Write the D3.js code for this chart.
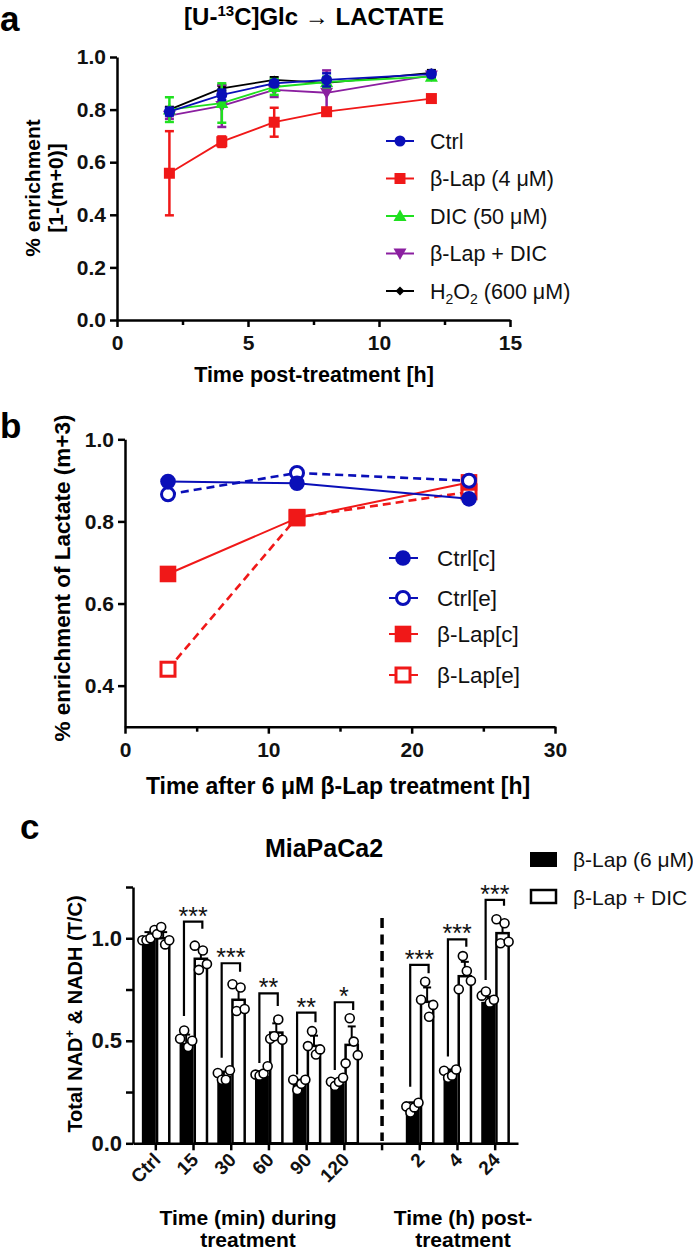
<!DOCTYPE html>
<html><head><meta charset="utf-8">
<script src="https://cdn.jsdelivr.net/npm/d3@7"></script>
<style>
body{margin:0;background:#fff;}
svg{display:block;font-family:"Liberation Sans",Arial,sans-serif;}
.bold{font-weight:bold;}
</style></head><body>
<svg id="chart" width="693" height="1253"></svg>
<script>
// ---------- Panel a data ----------
const timesA = [2, 4, 6, 8, 12];
const seriesA = ["Ctrl", "β-Lap (4 μM)", "DIC (50 μM)", "β-Lap + DIC", "H2O2 (600 μM)"];
const ctrlA   = [0.792, 0.856, 0.900, 0.913, 0.935];
const lapA    = [0.558, 0.678, 0.752, 0.792, 0.842];
const dicA    = [0.800, 0.825, 0.886, 0.905, 0.925];
const lapDicA = [0.777, 0.814, 0.875, 0.864, 0.930];
const h2o2A   = [0.800, 0.881, 0.913, 0.902, 0.940];
const ctrlErrA   = [0.015, 0.02, 0.01, 0.025, 0.01];
const lapErrA    = [0.16, 0.02, 0.055, 0.012, 0.01];
const dicErrA    = [0.047, 0.075, 0.03, 0.02, 0.01];
const lapDicErrA = [0.012, 0.08, 0.027, 0.085, 0.01];
const h2o2ErrA   = [0.01, 0.01, 0.01, 0.01, 0.01];
const xTicksA = [0, 5, 10, 15];
const yTicksA = [0, 0.2, 0.4, 0.6, 0.8, 1.0];

// ---------- Panel b data ----------
const timesB = [3, 12, 24];
const seriesB = ["Ctrl[c]", "Ctrl[e]", "β-Lap[c]", "β-Lap[e]"];
const ctrlC_B = [0.897, 0.893, 0.855];
const ctrlE_B = [0.866, 0.918, 0.899];
const lapC_B  = [0.672, 0.808, 0.895];
const lapE_B  = [0.440, 0.810, 0.872];
const xTicksB = [0, 10, 20, 30];
const yTicksB = [0.4, 0.6, 0.8, 1.0];

// ---------- Panel c data ----------
const catsC = ["Ctrl", "15", "30", "60", "90", "120", "", "2", "4", "24"];
const lapBarC    = [1.00, 0.49, 0.33, 0.33, 0.29, 0.29, null, 0.18, 0.34, 0.69];
const lapDicBarC = [1.00, 0.90, 0.70, 0.54, 0.475, 0.48, null, 0.69, 0.815, 1.025];
const lapSdC     = [0.03, 0.04, 0.02, 0.02, 0.02, 0.02, null, 0.02, 0.02, 0.025];
const lapDicSdC  = [0.03, 0.05, 0.065, 0.045, 0.05, 0.09, null, 0.07, 0.07, 0.05];
const lapDotsC = [[0.99,0.99,1.00,1.04],[0.51,0.55,0.47,0.50],[0.343,0.31,0.31,0.356],[0.335,0.33,0.34,0.376],[0.31,0.26,0.29,0.31],[0.30,0.28,0.30,0.32],null,[0.18,0.15,0.175,0.198],[0.354,0.32,0.33,0.36],[0.72,0.74,0.686,0.70]];
const lapDicDotsC = [[1.02,1.055,0.97,0.99],[0.964,0.846,0.94,0.874],[0.776,0.645,0.76,0.655],[0.51,0.522,0.604,0.505],[0.474,0.547,0.433,0.458],[0.39,0.61,0.496,0.43],null,[0.70,0.788,0.617,0.675],[0.751,0.913,0.84,0.793],[1.093,0.976,1.073,0.983]];
const bracketTopC   = [null, 1.081, 0.878, 0.731, 0.637, 0.688, null, 0.870, 0.995, 1.187];
const bracketLeftC  = [null, 0.621, 0.417, 0.392, 0.335, 0.358, null, 0.276, 0.423, 0.797];
const bracketRightC = [null, 1.046, 0.837, 0.670, 0.590, 0.650, null, 0.829, 0.959, 1.158];
const starsC = [null, "***", "***", "**", "**", "*", null, "***", "***", "***"];
const yTicksC = [0, 0.25, 0.5, 0.75, 1.0, 1.25];
const yLabelsC = [0, 0.5, 1.0];
const seriesC = ["β-Lap (6 μM)", "β-Lap + DIC"];

const svg = d3.select("#chart");

function axisStyle(size){
  return function(g){
    g.selectAll(".domain").attr("stroke","#000").attr("stroke-width",2.5);
    g.selectAll(".tick line").attr("stroke","#000").attr("stroke-width",2.5);
    g.selectAll(".tick text").attr("font-size",size).attr("font-weight","bold").attr("fill","#111")
      .attr("font-family","'Liberation Sans',Arial,sans-serif");
  };
}

// ======== Panel a ========
{
  const x = d3.scaleLinear([0,15],[117,510]);
  const y = d3.scaleLinear([0,1],[320,57]);
  svg.append("text").attr("x",0).attr("y",31).attr("class","bold").attr("font-size",35).text("a");
  const t = svg.append("text").attr("x",314).attr("y",25).attr("text-anchor","middle").attr("class","bold").attr("font-size",24);
  t.append("tspan").text("[U-");
  t.append("tspan").attr("font-size",15).attr("dy",-9).text("13");
  t.append("tspan").attr("dy",9).text("C]Glc \u2192 LACTATE");

  svg.append("g").attr("transform","translate(0,320)")
    .call(d3.axisBottom(x).tickValues([2.5,7.5,12.5]).tickSize(5).tickFormat(""))
    .call(axisStyle(21)).call(g=>g.select(".domain").remove());
  svg.append("g").attr("transform","translate(0,320)")
    .call(d3.axisBottom(x).tickValues(xTicksA).tickSize(7).tickSizeOuter(0).tickPadding(8).tickFormat(d3.format("d")))
    .call(axisStyle(21));
  svg.append("g").attr("transform","translate(117,0)")
    .call(d3.axisLeft(y).tickValues(yTicksA).tickSize(7).tickSizeOuter(0).tickPadding(4).tickFormat(d3.format(".1f")))
    .call(axisStyle(21));

  svg.append("text").attr("transform","translate(40,188) rotate(-90)").attr("text-anchor","middle").attr("class","bold").attr("font-size",21).text("% enrichment");
  svg.append("text").attr("transform","translate(63,188) rotate(-90)").attr("text-anchor","middle").attr("class","bold").attr("font-size",21).text("[1-(m+0)]");
  svg.append("text").attr("x",314).attr("y",382).attr("text-anchor","middle").attr("class","bold").attr("font-size",21.5).text("Time post-treatment [h]");

  const defs = [
    {name:seriesA[4], vals:h2o2A, err:h2o2ErrA, color:"#000000", shape:"diamond"},
    {name:seriesA[3], vals:lapDicA, err:lapDicErrA, color:"#8B1FA0", shape:"tridown"},
    {name:seriesA[2], vals:dicA, err:dicErrA, color:"#1FE01F", shape:"triup"},
    {name:seriesA[1], vals:lapA, err:lapErrA, color:"#F01818", shape:"square"},
    {name:seriesA[0], vals:ctrlA, err:ctrlErrA, color:"#0A0FB8", shape:"circle"},
  ];
  function marker(g, shape, color, cx, cy){
    if(shape==="circle") g.append("circle").attr("cx",cx).attr("cy",cy).attr("r",5.5).attr("fill",color);
    else if(shape==="square") g.append("rect").attr("x",cx-5.5).attr("y",cy-5.5).attr("width",11).attr("height",11).attr("fill",color);
    else if(shape==="triup") g.append("path").attr("d",`M${cx},${cy-6.5}L${cx+6.5},${cy+5}L${cx-6.5},${cy+5}Z`).attr("fill",color);
    else if(shape==="tridown") g.append("path").attr("d",`M${cx},${cy+6.5}L${cx+6.5},${cy-5}L${cx-6.5},${cy-5}Z`).attr("fill",color);
    else if(shape==="diamond") g.append("path").attr("d",`M${cx},${cy-4.5}L${cx+4.5},${cy}L${cx},${cy+4.5}L${cx-4.5},${cy}Z`).attr("fill",color);
  }
  const line = d3.line().x((d,i)=>x(timesA[i])).y(d=>y(d));
  defs.forEach(s=>{
    const g = svg.append("g");
    s.vals.forEach((v,i)=>{
      const cx = x(timesA[i]);
      g.append("line").attr("x1",cx).attr("x2",cx).attr("y1",y(v-s.err[i])).attr("y2",y(v+s.err[i])).attr("stroke",s.color).attr("stroke-width",2.5);
      [v-s.err[i], v+s.err[i]].forEach(e=>g.append("line").attr("x1",cx-4.5).attr("x2",cx+4.5).attr("y1",y(e)).attr("y2",y(e)).attr("stroke",s.color).attr("stroke-width",2.5));
    });
    g.append("path").attr("d",line(s.vals)).attr("fill","none").attr("stroke",s.color).attr("stroke-width",1.8);
    s.vals.forEach((v,i)=>marker(g,s.shape,s.color,x(timesA[i]),y(v)));
  });
  const legOrder = defs.slice().reverse();
  legOrder.forEach((s,i)=>{
    const ly = 141 + i*37.5;
    const g = svg.append("g");
    g.append("line").attr("x1",386).attr("x2",414).attr("y1",ly).attr("y2",ly).attr("stroke",s.color).attr("stroke-width",2);
    marker(g,s.shape,s.color,400,ly);
    const tx = g.append("text").attr("x",430).attr("y",ly+7.5).attr("font-size",21.5).attr("fill","#111");
    if(s.name.startsWith("H2O2")){
      tx.append("tspan").text("H");
      tx.append("tspan").attr("font-size",14).attr("dy",5).text("2");
      tx.append("tspan").attr("dy",-5).text("O");
      tx.append("tspan").attr("font-size",14).attr("dy",5).text("2");
      tx.append("tspan").attr("dy",-5).text(" (600 μM)");
    } else tx.text(s.name);
  });
}

// ======== Panel b ========
{
  const x = d3.scaleLinear([0,30],[125,555]);
  const y = d3.scaleLinear([0.3,1.0],[726.7,439.3]);
  svg.append("text").attr("x",0).attr("y",438).attr("class","bold").attr("font-size",35).text("b");
  svg.append("g").attr("transform","translate(0,726.7)")
    .call(d3.axisBottom(x).tickValues([5,15,25]).tickSize(5).tickFormat(""))
    .call(axisStyle(21)).call(g=>g.select(".domain").remove());
  svg.append("g").attr("transform","translate(0,726.7)")
    .call(d3.axisBottom(x).tickValues(xTicksB).tickSize(7).tickSizeOuter(0).tickPadding(8).tickFormat(d3.format("d")))
    .call(axisStyle(21));
  svg.append("g").attr("transform","translate(125,0)")
    .call(d3.axisLeft(y).tickValues(yTicksB).tickSize(7).tickSizeOuter(0).tickPadding(4).tickFormat(d3.format(".1f")))
    .call(axisStyle(21));
  svg.append("text").attr("transform","translate(70,578) rotate(-90)").attr("text-anchor","middle").attr("class","bold").attr("font-size",22.5).text("% enrichment of Lactate (m+3)");
  svg.append("text").attr("x",338).attr("y",794).attr("text-anchor","middle").attr("class","bold").attr("font-size",23).text("Time after 6 μM β-Lap treatment [h]");

  const defs = [
    {name:seriesB[3], vals:lapE_B, color:"#F01818", shape:"square", open:true, dash:true},
    {name:seriesB[2], vals:lapC_B, color:"#F01818", shape:"square", open:false, dash:false},
    {name:seriesB[1], vals:ctrlE_B, color:"#0A0FB8", shape:"circle", open:true, dash:true},
    {name:seriesB[0], vals:ctrlC_B, color:"#0A0FB8", shape:"circle", open:false, dash:false},
  ];
  function marker(g,s,cx,cy){
    if(s.shape==="circle"){
      if(s.open) g.append("circle").attr("cx",cx).attr("cy",cy).attr("r",6.5).attr("fill","#fff").attr("stroke",s.color).attr("stroke-width",3);
      else g.append("circle").attr("cx",cx).attr("cy",cy).attr("r",7.8).attr("fill",s.color);
    } else {
      if(s.open) g.append("rect").attr("x",cx-7).attr("y",cy-7).attr("width",14).attr("height",14).attr("fill","#fff").attr("stroke",s.color).attr("stroke-width",3);
      else g.append("rect").attr("x",cx-8.3).attr("y",cy-8.3).attr("width",16.6).attr("height",16.6).attr("fill",s.color);
    }
  }
  const line = d3.line().x((d,i)=>x(timesB[i])).y(d=>y(d));
  defs.forEach(s=>{
    const g = svg.append("g");
    g.append("path").attr("d",line(s.vals)).attr("fill","none").attr("stroke",s.color)
      .attr("stroke-width",s.dash?2.6:2).attr("stroke-dasharray",s.dash?"8,5":null);
    s.vals.forEach((v,i)=>marker(g,s,x(timesB[i]),y(v)));
  });
  const legOrder = defs.slice().reverse();
  const legY = [558, 598, 634, 675];
  legOrder.forEach((s,i)=>{
    const ly = legY[i];
    const g = svg.append("g");
    g.append("line").attr("x1",389).attr("x2",418).attr("y1",ly).attr("y2",ly).attr("stroke",s.color).attr("stroke-width",2);
    marker(g,s,403,ly);
    g.append("text").attr("x",437).attr("y",ly+8).attr("font-size",22.5).attr("fill","#111").text(s.name);
  });
}

// ======== Panel c ========
{
  const x = d3.scaleBand(catsC,[133,518]).paddingInner(0.22).paddingOuter(0.215);
  const y = d3.scaleLinear([0,1.25],[1143.3,887]);
  const bw = x.bandwidth()/2;
  svg.append("text").attr("x",20).attr("y",839).attr("class","bold").attr("font-size",35).text("c");
  svg.append("text").attr("x",324).attr("y",857).attr("text-anchor","middle").attr("class","bold").attr("font-size",25).text("MiaPaCa2");

  catsC.forEach((c,i)=>{
    if(lapBarC[i]==null) return;
    const x0 = x(c);
    const g = svg.append("g");
    g.append("rect").attr("x",x0+0.75).attr("y",y(lapBarC[i])).attr("width",bw-0.75).attr("height",y(0)-y(lapBarC[i])).attr("fill","#000");
    g.append("rect").attr("x",x0+bw+1.25).attr("y",y(lapDicBarC[i])).attr("width",bw-2.5).attr("height",y(0)-y(lapDicBarC[i])).attr("fill","#fff").attr("stroke","#000").attr("stroke-width",2.5);
    [[lapBarC[i],lapSdC[i],x0+bw/2],[lapDicBarC[i],lapDicSdC[i],x0+bw*1.5]].forEach(([m,sd,cx])=>{
      g.append("line").attr("x1",cx).attr("x2",cx).attr("y1",y(m)).attr("y2",y(m+sd)).attr("stroke","#000").attr("stroke-width",2);
      g.append("line").attr("x1",cx-4).attr("x2",cx+4).attr("y1",y(m+sd)).attr("y2",y(m+sd)).attr("stroke","#000").attr("stroke-width",2);
    });
    const offs = [-0.55,-0.18,0.18,0.55];
    lapDotsC[i].forEach((v,k)=>g.append("circle").attr("cx",x0+bw/2+offs[k]*bw*0.75).attr("cy",y(v)).attr("r",4.5).attr("fill","#fff").attr("stroke","#000").attr("stroke-width",1.6));
    lapDicDotsC[i].forEach((v,k)=>g.append("circle").attr("cx",x0+bw*1.5+offs[k]*bw*0.75).attr("cy",y(v)).attr("r",4.5).attr("fill","#fff").attr("stroke","#000").attr("stroke-width",1.6));
    if(bracketTopC[i]!=null){
      const lx = x0+bw*0.35, rx = x0+bw*1.6;
      g.append("path").attr("d",`M${lx},${y(bracketLeftC[i])}V${y(bracketTopC[i])}H${rx}V${y(bracketRightC[i])}`)
        .attr("fill","none").attr("stroke","#000").attr("stroke-width",2.2);
      g.append("text").attr("x",(lx+rx)/2).attr("y",y(bracketTopC[i])+3).attr("text-anchor","middle").attr("font-size",25).attr("fill","#111").text(starsC[i]);
    }
  });

  svg.append("g").attr("transform","translate(0,1143.3)")
    .call(d3.axisBottom(x).tickSize(7).tickSizeOuter(0).tickFormat(""))
    .call(axisStyle(21));
  catsC.forEach(c=>{
    if(!c) return;
    svg.append("text").attr("transform",`translate(${x(c)+x.bandwidth()/2+6},1161) rotate(-45)`)
      .attr("text-anchor","end").attr("class","bold").attr("font-size",19).attr("fill","#111").text(c);
  });
  svg.append("g").attr("transform","translate(133,0)")
    .call(d3.axisLeft(y).tickValues(yTicksC).tickSize(7).tickSizeOuter(0).tickPadding(4)
      .tickFormat(d=>yLabelsC.includes(d)?d3.format(".1f")(d):""))
    .call(axisStyle(22));

  const gapX = x("")+x.bandwidth()/2;
  svg.append("line").attr("x1",gapX).attr("x2",gapX).attr("y1",918).attr("y2",1141).attr("stroke","#000").attr("stroke-width",3.5).attr("stroke-dasharray","10,6.5");

  const yt = svg.append("text").attr("transform","translate(82,1014) rotate(-90)").attr("text-anchor","middle").attr("class","bold").attr("font-size",20);
  yt.append("tspan").text("Total NAD");
  yt.append("tspan").attr("font-size",13).attr("dy",-8).text("+");
  yt.append("tspan").attr("dy",8).text(" & NADH  (T/C)");

  [["Time (min) during","treatment",248],["Time (h) post-","treatment",463]].forEach(([a,b,cx])=>{
    svg.append("text").attr("x",cx).attr("y",1225).attr("text-anchor","middle").attr("class","bold").attr("font-size",21).text(a);
    svg.append("text").attr("x",cx).attr("y",1247).attr("text-anchor","middle").attr("class","bold").attr("font-size",21).text(b);
  });

  svg.append("rect").attr("x",530).attr("y",852).attr("width",27).attr("height",15).attr("fill","#000");
  svg.append("rect").attr("x",531).attr("y",890).attr("width",25).attr("height",13).attr("fill","#fff").attr("stroke","#000").attr("stroke-width",2.5);
  svg.append("text").attr("x",573).attr("y",867).attr("font-size",21).attr("fill","#111").text(seriesC[0]);
  svg.append("text").attr("x",573).attr("y",905).attr("font-size",21).attr("fill","#111").text(seriesC[1]);
}
</script>
</body></html>
